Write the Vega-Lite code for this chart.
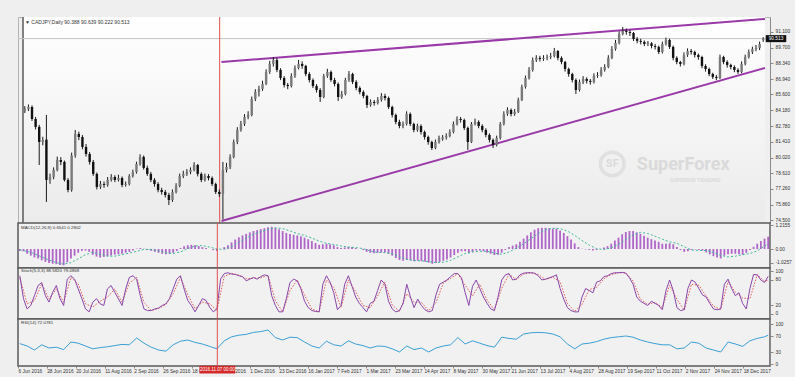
{
"$schema": "https://vega.github.io/schema/vega-lite/v6.json",
"background": "#efefef",
"padding": {"left": 16, "top": 15, "right": 2, "bottom": 2},
"spacing": 0,
"bounds": "flush",
"config": {
  "font": "Liberation Sans",
  "view": {"stroke": "#5a5a5a", "strokeWidth": 1.5},
  "axis": {"grid": false, "labelFontSize": 4.8, "labelColor": "#333333", "tickColor": "#888888", "tickSize": 3, "domainColor": "#8a8a8a", "labelPadding": 2, "labelOverlap": false}
},
"resolve": {"scale": {"x": "independent", "y": "independent"}},
"datasets": {
"c": [
{"t":0,"o":84.1,"h":84.55,"l":83.95,"c":84.3,"m":-0.1,"k":90,"g":-0.05,"r":51},
{"t":1,"o":84.3,"h":84.7,"l":84.12,"c":84.48,"m":-0.12,"k":36},
{"t":2,"o":84.48,"h":84.62,"l":83.25,"c":83.42,"m":-0.25,"k":12,"g":-0.12,"r":45},
{"t":3,"o":83.42,"h":83.6,"l":82.5,"c":82.72,"m":-0.35,"k":20},
{"t":4,"o":82.72,"h":82.9,"l":79.36,"c":81.39,"m":-0.45,"k":43,"g":-0.25,"r":35},
{"t":5,"o":81.39,"h":81.85,"l":81.1,"c":81.57,"m":-0.5,"k":67},
{"t":6,"o":81.6,"h":83.77,"l":76.1,"c":78.04,"m":-0.6,"k":74,"g":-0.42,"r":48},
{"t":7,"o":78.04,"h":78.6,"l":77.7,"c":78.3,"m":-0.68,"k":43},
{"t":8,"o":78.3,"h":79.15,"l":78.1,"c":78.92,"m":-0.74,"k":28,"g":-0.58,"r":40},
{"t":9,"o":78.92,"h":80.1,"l":78.8,"c":79.8,"m":-0.78,"k":51},
{"t":10,"o":79.8,"h":80.05,"l":79.35,"c":79.63,"m":-0.8,"k":67,"g":-0.72,"r":42},
{"t":11,"o":79.63,"h":79.75,"l":77.9,"c":78.04,"m":-0.84,"k":36},
{"t":12,"o":78.04,"h":78.2,"l":76.95,"c":77.15,"m":-0.86,"k":20,"g":-0.8,"r":36},
{"t":13,"o":77.15,"h":80.45,"l":77.0,"c":80.2,"m":-0.7,"k":82},
{"t":14,"o":80.2,"h":82.45,"l":80.0,"c":82.1,"m":-0.5,"k":90,"g":-0.72,"r":55},
{"t":15,"o":82.1,"h":82.3,"l":81.55,"c":81.83,"m":-0.35,"k":82},
{"t":16,"o":81.83,"h":82.0,"l":80.75,"c":80.95,"m":-0.2,"k":59,"g":-0.52,"r":52},
{"t":17,"o":80.95,"h":81.2,"l":80.1,"c":80.33,"m":-0.1,"k":36},
{"t":18,"o":80.33,"h":80.5,"l":79.4,"c":79.63,"m":-0.08,"k":12,"g":-0.3,"r":45},
{"t":19,"o":79.63,"h":79.8,"l":78.4,"c":78.57,"m":-0.15,"k":5},
{"t":20,"o":78.57,"h":78.7,"l":77.2,"c":77.42,"m":-0.3,"k":28,"g":-0.18,"r":38},
{"t":21,"o":77.42,"h":77.95,"l":77.25,"c":77.68,"m":-0.4,"k":36},
{"t":22,"o":77.68,"h":77.9,"l":77.35,"c":77.6,"m":-0.45,"k":24,"g":-0.28,"r":41},
{"t":23,"o":77.6,"h":78.3,"l":77.45,"c":78.04,"m":-0.42,"k":20},
{"t":24,"o":78.04,"h":78.55,"l":77.9,"c":78.3,"m":-0.38,"k":59,"g":-0.38,"r":43},
{"t":25,"o":78.3,"h":78.45,"l":77.85,"c":78.04,"m":-0.35,"k":67},
{"t":26,"o":78.04,"h":78.5,"l":77.9,"c":78.21,"m":-0.3,"k":51,"g":-0.38,"r":46},
{"t":27,"o":78.21,"h":78.35,"l":77.4,"c":77.6,"m":-0.28,"k":36},
{"t":28,"o":77.6,"h":77.9,"l":77.45,"c":77.68,"m":-0.25,"k":20,"g":-0.3,"r":49},
{"t":29,"o":77.68,"h":78.55,"l":77.55,"c":78.39,"m":-0.2,"k":59},
{"t":30,"o":78.39,"h":78.95,"l":78.25,"c":78.74,"m":-0.15,"k":86,"g":-0.22,"r":48},
{"t":31,"o":78.74,"h":79.65,"l":78.6,"c":79.45,"m":-0.08,"k":90},
{"t":32,"o":79.45,"h":80.3,"l":79.3,"c":80.07,"m":0.02,"k":82,"g":-0.12,"r":65},
{"t":33,"o":80.07,"h":80.2,"l":78.95,"c":79.1,"m":0.05,"k":43},
{"t":34,"o":79.1,"h":79.3,"l":78.4,"c":78.57,"m":0.02,"k":12,"g":-0.02,"r":52},
{"t":35,"o":78.57,"h":78.75,"l":77.85,"c":78.04,"m":-0.05,"k":8},
{"t":36,"o":78.04,"h":78.2,"l":77.45,"c":77.68,"m":-0.1,"k":8,"g":-0.02,"r":42},
{"t":37,"o":77.68,"h":77.85,"l":76.95,"c":77.15,"m":-0.15,"k":12},
{"t":38,"o":77.15,"h":77.35,"l":76.75,"c":76.98,"m":-0.2,"k":14,"g":-0.1,"r":35},
{"t":39,"o":76.98,"h":77.15,"l":76.5,"c":76.71,"m":-0.25,"k":20},
{"t":40,"o":76.71,"h":76.9,"l":75.83,"c":76.27,"m":-0.28,"k":24,"g":-0.2,"r":32},
{"t":41,"o":76.27,"h":77.2,"l":76.1,"c":76.98,"m":-0.25,"k":36},
{"t":42,"o":76.98,"h":77.75,"l":76.85,"c":77.51,"m":-0.2,"k":59,"g":-0.24,"r":48},
{"t":43,"o":77.51,"h":78.6,"l":77.4,"c":78.39,"m":-0.1,"k":82},
{"t":44,"o":78.39,"h":78.85,"l":78.2,"c":78.57,"m":0.05,"k":90,"g":-0.15,"r":57},
{"t":45,"o":78.57,"h":79.0,"l":78.4,"c":78.74,"m":0.15,"k":59},
{"t":46,"o":78.74,"h":79.15,"l":78.55,"c":78.92,"m":0.2,"k":32,"g":0.02,"r":60},
{"t":47,"o":78.92,"h":79.6,"l":78.8,"c":79.36,"m":0.22,"k":20},
{"t":48,"o":79.36,"h":79.45,"l":78.35,"c":78.57,"m":0.2,"k":5,"g":0.16,"r":54},
{"t":49,"o":78.57,"h":78.7,"l":77.85,"c":78.04,"m":0.15,"k":20},
{"t":50,"o":78.04,"h":78.6,"l":77.9,"c":78.39,"m":0.1,"k":36,"g":0.18,"r":50},
{"t":51,"o":78.39,"h":78.55,"l":78.0,"c":78.21,"m":0.05,"k":32},
{"t":52,"o":78.21,"h":78.35,"l":77.5,"c":77.68,"m":0.0,"k":16,"g":0.1,"r":44},
{"t":53,"o":77.68,"h":77.8,"l":76.8,"c":76.98,"m":-0.06,"k":5},
{"t":54,"o":76.98,"h":77.2,"l":76.55,"c":76.8,"m":-0.1,"k":12,"g":0.0,"r":38},
{"t":55,"o":76.8,"h":79.63,"l":74.55,"c":78.92,"m":0.0,"k":82},
{"t":56,"o":78.92,"h":79.55,"l":78.7,"c":79.18,"m":0.1,"k":95,"g":-0.02,"r":58},
{"t":57,"o":79.18,"h":80.3,"l":79.0,"c":80.07,"m":0.2,"k":97},
{"t":58,"o":80.07,"h":81.6,"l":79.95,"c":81.39,"m":0.35,"k":94,"g":0.12,"r":68},
{"t":59,"o":81.39,"h":82.7,"l":81.2,"c":82.45,"m":0.5,"k":93},
{"t":60,"o":82.45,"h":83.25,"l":82.3,"c":82.98,"m":0.62,"k":90,"g":0.35,"r":72},
{"t":61,"o":82.98,"h":83.85,"l":82.8,"c":83.6,"m":0.72,"k":88},
{"t":62,"o":83.6,"h":84.1,"l":83.4,"c":83.77,"m":0.8,"k":78,"g":0.58,"r":74},
{"t":63,"o":83.77,"h":85.4,"l":83.65,"c":85.19,"m":0.88,"k":82},
{"t":64,"o":85.19,"h":86.05,"l":85.0,"c":85.8,"m":0.95,"k":86,"g":0.78,"r":79},
{"t":65,"o":85.8,"h":86.35,"l":85.4,"c":86.07,"m":1.0,"k":82},
{"t":66,"o":86.07,"h":86.8,"l":85.9,"c":86.51,"m":1.05,"k":88,"g":0.92,"r":81},
{"t":67,"o":86.51,"h":87.8,"l":86.4,"c":87.57,"m":1.1,"k":92},
{"t":68,"o":87.57,"h":88.55,"l":87.4,"c":88.28,"m":1.15,"k":90,"g":1.04,"r":85},
{"t":69,"o":88.28,"h":88.89,"l":88.05,"c":88.63,"m":1.17,"k":43},
{"t":70,"o":88.63,"h":88.8,"l":87.55,"c":87.75,"m":1.12,"k":20,"g":1.12,"r":66},
{"t":71,"o":87.75,"h":87.9,"l":86.85,"c":87.04,"m":1.05,"k":5},
{"t":72,"o":87.04,"h":87.2,"l":86.2,"c":86.42,"m":0.95,"k":5,"g":1.08,"r":60},
{"t":73,"o":86.42,"h":86.6,"l":86.05,"c":86.33,"m":0.85,"k":36},
{"t":74,"o":86.33,"h":87.45,"l":86.2,"c":87.22,"m":0.8,"k":74,"g":0.96,"r":67},
{"t":75,"o":87.22,"h":88.15,"l":87.05,"c":87.92,"m":0.75,"k":82},
{"t":76,"o":87.92,"h":88.63,"l":87.8,"c":88.28,"m":0.72,"k":78,"g":0.82,"r":66},
{"t":77,"o":88.28,"h":88.5,"l":87.85,"c":88.1,"m":0.68,"k":59},
{"t":78,"o":88.1,"h":88.2,"l":87.2,"c":87.39,"m":0.6,"k":30,"g":0.72,"r":55},
{"t":79,"o":87.39,"h":87.55,"l":86.65,"c":86.86,"m":0.52,"k":15},
{"t":80,"o":86.86,"h":87.0,"l":86.15,"c":86.33,"m":0.42,"k":8,"g":0.58,"r":45},
{"t":81,"o":86.33,"h":86.5,"l":85.75,"c":85.98,"m":0.32,"k":6},
{"t":82,"o":85.98,"h":86.15,"l":84.92,"c":85.36,"m":0.22,"k":5,"g":0.42,"r":40},
{"t":83,"o":85.36,"h":87.4,"l":85.25,"c":87.22,"m":0.25,"k":70},
{"t":84,"o":87.22,"h":87.85,"l":87.05,"c":87.57,"m":0.28,"k":90,"g":0.3,"r":57},
{"t":85,"o":87.57,"h":87.7,"l":86.7,"c":86.86,"m":0.25,"k":75},
{"t":86,"o":86.86,"h":87.05,"l":86.3,"c":86.51,"m":0.2,"k":50,"g":0.24,"r":48},
{"t":87,"o":86.51,"h":86.65,"l":85.01,"c":85.36,"m":0.1,"k":10},
{"t":88,"o":85.36,"h":85.9,"l":85.2,"c":85.63,"m":0.05,"k":20,"g":0.16,"r":45},
{"t":89,"o":85.63,"h":87.05,"l":85.5,"c":86.86,"m":0.08,"k":70},
{"t":90,"o":86.86,"h":87.65,"l":86.7,"c":87.39,"m":0.12,"k":90,"g":0.1,"r":58},
{"t":91,"o":87.39,"h":87.5,"l":86.5,"c":86.69,"m":0.1,"k":65},
{"t":92,"o":86.69,"h":86.85,"l":85.95,"c":86.16,"m":0.05,"k":40,"g":0.08,"r":50},
{"t":93,"o":86.16,"h":86.3,"l":85.6,"c":85.8,"m":0.0,"k":25},
{"t":94,"o":85.8,"h":85.95,"l":85.25,"c":85.45,"m":-0.05,"k":15,"g":0.02,"r":46},
{"t":95,"o":85.45,"h":85.55,"l":84.39,"c":84.66,"m":-0.15,"k":5},
{"t":96,"o":84.66,"h":85.15,"l":84.5,"c":84.92,"m":-0.2,"k":25,"g":-0.1,"r":40},
{"t":97,"o":84.92,"h":85.1,"l":84.6,"c":84.83,"m":-0.22,"k":30},
{"t":98,"o":84.83,"h":85.35,"l":84.7,"c":85.1,"m":-0.2,"k":55,"g":-0.18,"r":45},
{"t":99,"o":85.1,"h":85.7,"l":84.95,"c":85.45,"m":-0.18,"k":80},
{"t":100,"o":85.45,"h":85.65,"l":85.05,"c":85.27,"m":-0.18,"k":70,"g":-0.19,"r":44},
{"t":101,"o":85.27,"h":85.4,"l":84.3,"c":84.48,"m":-0.25,"k":30},
{"t":102,"o":84.48,"h":84.6,"l":83.55,"c":83.77,"m":-0.35,"k":12,"g":-0.25,"r":38},
{"t":103,"o":83.77,"h":83.9,"l":82.95,"c":83.16,"m":-0.48,"k":5},
{"t":104,"o":83.16,"h":83.35,"l":82.6,"c":82.8,"m":-0.58,"k":8,"g":-0.4,"r":30},
{"t":105,"o":82.8,"h":83.2,"l":82.6,"c":82.98,"m":-0.62,"k":25},
{"t":106,"o":82.98,"h":84.1,"l":82.85,"c":83.86,"m":-0.58,"k":70,"g":-0.55,"r":45},
{"t":107,"o":83.86,"h":84.0,"l":82.8,"c":82.98,"m":-0.6,"k":40},
{"t":108,"o":82.98,"h":83.1,"l":82.25,"c":82.45,"m":-0.65,"k":15,"g":-0.61,"r":36},
{"t":109,"o":82.45,"h":83.0,"l":82.3,"c":82.8,"m":-0.62,"k":35},
{"t":110,"o":82.8,"h":82.95,"l":82.05,"c":82.27,"m":-0.64,"k":20,"g":-0.63,"r":40},
{"t":111,"o":82.27,"h":82.4,"l":81.6,"c":81.83,"m":-0.68,"k":10},
{"t":112,"o":81.83,"h":81.95,"l":81.15,"c":81.39,"m":-0.72,"k":5,"g":-0.67,"r":30},
{"t":113,"o":81.39,"h":81.5,"l":80.69,"c":80.86,"m":-0.78,"k":8},
{"t":114,"o":80.86,"h":81.6,"l":80.75,"c":81.39,"m":-0.74,"k":45,"g":-0.72,"r":40},
{"t":115,"o":81.39,"h":81.95,"l":81.25,"c":81.74,"m":-0.68,"k":70},
{"t":116,"o":81.65,"h":82.0,"l":81.5,"c":81.8,"m":-0.62,"k":75,"g":-0.7,"r":45},
{"t":117,"o":81.8,"h":82.15,"l":81.6,"c":81.92,"m":-0.55,"k":80},
{"t":118,"o":81.92,"h":82.5,"l":81.8,"c":82.27,"m":-0.45,"k":88,"g":-0.6,"r":48},
{"t":119,"o":82.27,"h":83.2,"l":82.15,"c":82.98,"m":-0.32,"k":95},
{"t":120,"o":82.98,"h":83.65,"l":82.85,"c":83.42,"m":-0.2,"k":95,"g":-0.42,"r":66},
{"t":121,"o":83.42,"h":83.6,"l":83.1,"c":83.33,"m":-0.12,"k":85},
{"t":122,"o":83.33,"h":83.45,"l":82.45,"c":82.63,"m":-0.12,"k":50,"g":-0.24,"r":50},
{"t":123,"o":82.63,"h":82.75,"l":80.69,"c":81.39,"m":-0.22,"k":20},
{"t":124,"o":81.39,"h":83.15,"l":81.3,"c":82.98,"m":-0.15,"k":65,"g":-0.16,"r":58},
{"t":125,"o":82.98,"h":83.45,"l":82.85,"c":83.16,"m":-0.08,"k":80},
{"t":126,"o":83.16,"h":83.3,"l":82.6,"c":82.8,"m":-0.08,"k":60,"g":-0.12,"r":52},
{"t":127,"o":82.8,"h":82.95,"l":82.25,"c":82.45,"m":-0.12,"k":40},
{"t":128,"o":82.45,"h":82.6,"l":81.8,"c":82.01,"m":-0.18,"k":25,"g":-0.12,"r":46},
{"t":129,"o":82.01,"h":82.15,"l":81.35,"c":81.57,"m":-0.25,"k":12},
{"t":130,"o":81.57,"h":81.7,"l":80.86,"c":81.13,"m":-0.32,"k":8,"g":-0.22,"r":42},
{"t":131,"o":81.13,"h":81.95,"l":81.0,"c":81.74,"m":-0.3,"k":40},
{"t":132,"o":81.74,"h":83.15,"l":81.6,"c":82.98,"m":-0.2,"k":80,"g":-0.28,"r":67},
{"t":133,"o":82.98,"h":84.1,"l":82.85,"c":83.86,"m":-0.05,"k":92},
{"t":134,"o":83.86,"h":84.45,"l":83.7,"c":84.22,"m":0.1,"k":95,"g":-0.16,"r":64},
{"t":135,"o":84.22,"h":84.35,"l":83.65,"c":83.86,"m":0.18,"k":80},
{"t":136,"o":83.86,"h":84.3,"l":83.7,"c":84.04,"m":0.25,"k":82,"g":0.04,"r":62},
{"t":137,"o":84.04,"h":85.3,"l":83.95,"c":85.1,"m":0.38,"k":92},
{"t":138,"o":85.1,"h":86.45,"l":85.0,"c":86.25,"m":0.55,"k":96,"g":0.28,"r":75},
{"t":139,"o":86.25,"h":87.25,"l":86.1,"c":87.04,"m":0.72,"k":97},
{"t":140,"o":87.04,"h":88.0,"l":86.9,"c":87.75,"m":0.88,"k":97,"g":0.55,"r":78},
{"t":141,"o":87.75,"h":88.85,"l":87.6,"c":88.63,"m":1.02,"k":96},
{"t":142,"o":88.63,"h":89.05,"l":88.45,"c":88.81,"m":1.1,"k":90,"g":0.82,"r":79},
{"t":143,"o":88.81,"h":89.0,"l":88.5,"c":88.72,"m":1.12,"k":80},
{"t":144,"o":88.72,"h":89.05,"l":88.55,"c":88.81,"m":1.12,"k":82,"g":1.02,"r":78},
{"t":145,"o":88.81,"h":89.1,"l":88.6,"c":88.89,"m":1.1,"k":85},
{"t":146,"o":88.89,"h":89.25,"l":88.7,"c":88.98,"m":1.08,"k":88,"g":1.1,"r":75},
{"t":147,"o":88.98,"h":89.69,"l":88.85,"c":89.42,"m":1.08,"k":92},
{"t":148,"o":89.42,"h":89.5,"l":88.6,"c":88.81,"m":0.98,"k":60,"g":1.08,"r":68},
{"t":149,"o":88.81,"h":88.95,"l":88.25,"c":88.45,"m":0.85,"k":35},
{"t":150,"o":88.45,"h":88.55,"l":87.6,"c":87.83,"m":0.68,"k":15,"g":0.95,"r":50},
{"t":151,"o":87.83,"h":87.95,"l":87.15,"c":87.39,"m":0.5,"k":8},
{"t":152,"o":87.39,"h":87.5,"l":86.65,"c":86.86,"m":0.3,"k":5,"g":0.72,"r":38},
{"t":153,"o":86.86,"h":87.0,"l":85.63,"c":85.98,"m":0.1,"k":5},
{"t":154,"o":85.98,"h":86.9,"l":85.85,"c":86.69,"m":0.02,"k":40,"g":0.45,"r":50},
{"t":155,"o":86.69,"h":87.2,"l":86.5,"c":86.95,"m":-0.02,"k":60},
{"t":156,"o":86.95,"h":87.1,"l":86.55,"c":86.78,"m":-0.05,"k":55,"g":0.2,"r":52},
{"t":157,"o":86.78,"h":86.95,"l":86.45,"c":86.69,"m":-0.08,"k":50},
{"t":158,"o":86.69,"h":87.45,"l":86.55,"c":87.22,"m":-0.05,"k":75,"g":0.02,"r":56},
{"t":159,"o":87.22,"h":87.55,"l":87.05,"c":87.3,"m":0.0,"k":78},
{"t":160,"o":87.3,"h":88.0,"l":87.15,"c":87.75,"m":0.08,"k":88,"g":-0.03,"r":62},
{"t":161,"o":87.75,"h":88.25,"l":87.6,"c":88.01,"m":0.15,"k":90},
{"t":162,"o":88.01,"h":89.05,"l":87.9,"c":88.81,"m":0.28,"k":95,"g":0.06,"r":66},
{"t":163,"o":88.81,"h":89.85,"l":88.7,"c":89.6,"m":0.45,"k":97},
{"t":164,"o":89.6,"h":90.4,"l":89.45,"c":90.13,"m":0.6,"k":97,"g":0.25,"r":68},
{"t":165,"o":90.13,"h":91.15,"l":90.0,"c":90.92,"m":0.78,"k":98},
{"t":166,"o":90.92,"h":91.54,"l":90.8,"c":91.19,"m":0.9,"k":96,"g":0.5,"r":70},
{"t":167,"o":91.19,"h":91.4,"l":90.85,"c":91.1,"m":0.95,"k":85},
{"t":168,"o":91.1,"h":91.3,"l":90.75,"c":91.01,"m":0.95,"k":70,"g":0.75,"r":67},
{"t":169,"o":91.01,"h":91.1,"l":90.3,"c":90.48,"m":0.88,"k":40},
{"t":170,"o":90.48,"h":90.65,"l":90.1,"c":90.31,"m":0.8,"k":30,"g":0.88,"r":60},
{"t":171,"o":90.31,"h":90.5,"l":90.0,"c":90.22,"m":0.7,"k":25},
{"t":172,"o":90.22,"h":90.35,"l":89.85,"c":90.04,"m":0.6,"k":20,"g":0.82,"r":55},
{"t":173,"o":90.04,"h":90.3,"l":89.85,"c":90.1,"m":0.52,"k":30},
{"t":174,"o":90.1,"h":90.2,"l":89.65,"c":89.86,"m":0.45,"k":25,"g":0.68,"r":51},
{"t":175,"o":89.86,"h":90.05,"l":89.55,"c":89.78,"m":0.38,"k":20},
{"t":176,"o":89.78,"h":89.9,"l":89.15,"c":89.33,"m":0.28,"k":10,"g":0.52,"r":48},
{"t":177,"o":89.33,"h":90.25,"l":89.2,"c":90.04,"m":0.28,"k":55},
{"t":178,"o":90.04,"h":90.6,"l":89.9,"c":90.39,"m":0.3,"k":80,"g":0.38,"r":48},
{"t":179,"o":90.39,"h":90.5,"l":89.6,"c":89.78,"m":0.25,"k":55},
{"t":180,"o":89.78,"h":89.9,"l":88.6,"c":88.81,"m":0.1,"k":15,"g":0.3,"r":38},
{"t":181,"o":88.81,"h":88.95,"l":88.25,"c":88.45,"m":-0.05,"k":8},
{"t":182,"o":88.45,"h":88.55,"l":88.05,"c":88.28,"m":-0.15,"k":10,"g":0.12,"r":40},
{"t":183,"o":88.28,"h":89.3,"l":88.15,"c":89.07,"m":-0.12,"k":60},
{"t":184,"o":89.07,"h":89.65,"l":88.9,"c":89.42,"m":-0.05,"k":80,"g":-0.05,"r":55},
{"t":185,"o":89.42,"h":89.6,"l":89.1,"c":89.33,"m":-0.02,"k":75},
{"t":186,"o":89.33,"h":89.45,"l":88.85,"c":89.07,"m":-0.05,"k":60,"g":-0.08,"r":52},
{"t":187,"o":89.07,"h":89.2,"l":88.65,"c":88.89,"m":-0.08,"k":45},
{"t":188,"o":88.89,"h":89.0,"l":87.9,"c":88.1,"m":-0.18,"k":40,"g":-0.08,"r":40},
{"t":189,"o":88.1,"h":88.25,"l":87.6,"c":87.83,"m":-0.28,"k":25},
{"t":190,"o":87.83,"h":87.95,"l":87.2,"c":87.39,"m":-0.38,"k":12,"g":-0.18,"r":35},
{"t":191,"o":87.39,"h":87.5,"l":86.95,"c":87.13,"m":-0.45,"k":10},
{"t":192,"o":87.13,"h":87.3,"l":86.85,"c":87.04,"m":-0.5,"k":12,"g":-0.34,"r":30},
{"t":193,"o":87.04,"h":89.1,"l":86.95,"c":88.89,"m":-0.35,"k":70},
{"t":194,"o":88.89,"h":89.0,"l":88.25,"c":88.45,"m":-0.28,"k":82,"g":-0.42,"r":55},
{"t":195,"o":88.45,"h":88.6,"l":87.95,"c":88.19,"m":-0.25,"k":60},
{"t":196,"o":88.19,"h":88.3,"l":87.8,"c":88.01,"m":-0.25,"k":43,"g":-0.38,"r":50},
{"t":197,"o":88.01,"h":88.15,"l":87.55,"c":87.75,"m":-0.28,"k":50},
{"t":198,"o":87.75,"h":87.9,"l":87.39,"c":87.57,"m":-0.3,"k":25,"g":-0.3,"r":44},
{"t":199,"o":87.57,"h":88.5,"l":87.45,"c":88.28,"m":-0.2,"k":12},
{"t":200,"o":88.28,"h":89.1,"l":88.15,"c":88.89,"m":-0.05,"k":60,"g":-0.24,"r":58},
{"t":201,"o":88.89,"h":89.55,"l":88.75,"c":89.33,"m":0.12,"k":93},
{"t":202,"o":89.33,"h":89.8,"l":89.15,"c":89.6,"m":0.28,"k":92,"g":-0.1,"r":64},
{"t":203,"o":89.6,"h":89.95,"l":89.4,"c":89.69,"m":0.42,"k":80},
{"t":204,"o":89.69,"h":90.25,"l":89.5,"c":90.04,"m":0.55,"k":74,"g":0.15,"r":68},
{"t":205,"o":90.388,"h":90.639,"l":90.222,"c":90.513,"m":0.654,"k":88.58,"g":0.28,"r":72.08}
],
"sd": [
{"t":0,"d":85},{"t":2,"d":24},{"t":4,"d":31.5},{"t":6,"d":70.5},{"t":8,"d":35.5},{"t":10,"d":59},{"t":12,"d":28},{"t":14,"d":86},{"t":16,"d":70.5},{"t":18,"d":24},
{"t":20,"d":16.5},{"t":22,"d":30},{"t":24,"d":39.5},{"t":26,"d":59},{"t":28,"d":28},{"t":30,"d":72.5},{"t":32,"d":86},{"t":34,"d":27.5},{"t":36,"d":8},{"t":38,"d":13},
{"t":40,"d":22},{"t":42,"d":47.5},{"t":44,"d":86},{"t":46,"d":45.5},{"t":48,"d":12.5},{"t":50,"d":28},{"t":52,"d":24},{"t":54,"d":8.5},{"t":56,"d":88.5},{"t":58,"d":95.5},
{"t":60,"d":91.5},{"t":62,"d":83},{"t":64,"d":84},{"t":66,"d":85},{"t":68,"d":91},{"t":70,"d":31.5},{"t":72,"d":5},{"t":74,"d":55},{"t":76,"d":80},{"t":78,"d":44.5},
{"t":80,"d":11.5},{"t":82,"d":5.5},{"t":84,"d":80},{"t":86,"d":62.5},{"t":88,"d":15},{"t":90,"d":80},{"t":92,"d":52.5},{"t":94,"d":20},{"t":96,"d":15},{"t":98,"d":42.5},
{"t":100,"d":75},{"t":102,"d":21},{"t":104,"d":6.5},{"t":106,"d":47.5},{"t":108,"d":27.5},{"t":110,"d":27.5},{"t":112,"d":7.5},{"t":114,"d":26.5},{"t":116,"d":72.5},{"t":118,"d":84},
{"t":120,"d":95},{"t":122,"d":67.5},{"t":124,"d":42.5},{"t":126,"d":70},{"t":128,"d":32.5},{"t":130,"d":10},{"t":132,"d":60},{"t":134,"d":93.5},{"t":136,"d":81},{"t":138,"d":94},
{"t":140,"d":97},{"t":142,"d":93},{"t":144,"d":81},{"t":146,"d":86.5},{"t":148,"d":76},{"t":150,"d":25},{"t":152,"d":6.5},{"t":154,"d":22.5},{"t":156,"d":57.5},{"t":158,"d":62.5},
{"t":160,"d":83},{"t":162,"d":92.5},{"t":164,"d":97},{"t":166,"d":97},{"t":168,"d":77.5},{"t":170,"d":35},{"t":172,"d":22.5},{"t":174,"d":27.5},{"t":176,"d":15},{"t":178,"d":67.5},
{"t":180,"d":35},{"t":182,"d":9},{"t":184,"d":70},{"t":186,"d":67.5},{"t":188,"d":42.5},{"t":190,"d":18.5},{"t":192,"d":11},{"t":194,"d":76},{"t":196,"d":51.5},{"t":198,"d":37.5},
{"t":200,"d":36},{"t":202,"d":92.5},{"t":204,"d":77},{"t":205,"d":79.49}
],
"trend": [
{"t":54.6,"t2":205.5,"p":88.45,"p2":92.25},
{"t":54.6,"t2":205.5,"p":74.42,"p2":87.92}
]
},
"vconcat": [
{
 "width": 752, "height": 206,
 "view": {"stroke": "#b4b4b4", "strokeWidth": 1},
 "resolve": {"axis": {"x": "independent", "y": "independent"}},
 "layer": [
  {"data": {"values": [{}]},
   "mark": {"type": "rect", "color": {"gradient": "linear", "x1": 0, "y1": 0, "x2": 0, "y2": 1, "stops": [{"offset": 0, "color": "#ffffff"}, {"offset": 1, "color": "#ebebeb"}]}},
   "encoding": {
    "x": {"datum": -0.5, "type": "quantitative", "scale": {"domain": [-0.5, 205.5], "nice": false, "zero": false}, "axis": null},
    "x2": {"datum": 205.5},
    "y": {"datum": 92.42, "type": "quantitative", "scale": {"domain": [74.24, 92.42], "nice": false, "zero": false},
      "axis": {"orient": "right", "title": null, "labelOverlap": false, "values": [91.1, 89.7, 88.34, 86.94, 85.6, 84.18, 82.78, 81.41, 80.02, 78.61, 77.26, 75.86, 74.5], "format": ".3f"}},
    "y2": {"datum": 74.24}}},
  {"data": {"values": [{}]},
   "mark": {"type": "rule", "color": "#5a5a5a", "strokeWidth": 1.5},
   "encoding": {"x": {"datum": -0.5, "type": "quantitative", "scale": {"domain": [-0.5, 205.5], "nice": false, "zero": false}, "axis": null}}},
  {"data": {"values": [{}]},
   "mark": {"type": "rule", "color": "#c4c4c4", "strokeWidth": 1},
   "encoding": {"y": {"datum": 90.513, "type": "quantitative", "scale": {"domain": [74.24, 92.42], "nice": false, "zero": false}, "axis": null}}},
  {"data": {"values": [{"t": 163.1, "p": 79.45}]},
   "mark": {"type": "point", "shape": "circle", "filled": false, "size": 560, "stroke": "#dadada", "strokeWidth": 3.5},
   "encoding": {
    "x": {"field": "t", "type": "quantitative", "scale": {"domain": [-0.5, 205.5], "nice": false, "zero": false}, "axis": null},
    "y": {"field": "p", "type": "quantitative", "scale": {"domain": [74.24, 92.42], "nice": false, "zero": false}, "axis": null}}},
  {"data": {"values": [{"t": 163.1, "p": 79.45, "s": "SF", "f": 11}, {"t": 182.8, "p": 79.36, "s": "SuperForex", "f": 18}, {"t": 186.1, "p": 78.0, "s": "SUPERIOR TRADING", "f": 5.5}]},
   "mark": {"type": "text", "color": "#dadada", "fontWeight": "bold", "font": "Roboto", "align": "center", "baseline": "middle"},
   "encoding": {
    "x": {"field": "t", "type": "quantitative", "scale": {"domain": [-0.5, 205.5], "nice": false, "zero": false}, "axis": null},
    "y": {"field": "p", "type": "quantitative", "scale": {"domain": [74.24, 92.42], "nice": false, "zero": false}, "axis": null},
    "text": {"field": "s"},
    "size": {"field": "f", "type": "quantitative", "scale": null}}},
  {"data": {"name": "trend"},
   "mark": {"type": "rule", "color": "#9a3aa8", "strokeWidth": 2},
   "encoding": {
    "x": {"field": "t", "type": "quantitative", "scale": {"domain": [-0.5, 205.5], "nice": false, "zero": false}, "axis": null},
    "x2": {"field": "t2"},
    "y": {"field": "p", "type": "quantitative", "scale": {"domain": [74.24, 92.42], "nice": false, "zero": false}, "axis": null},
    "y2": {"field": "p2"}}},
  {"data": {"values": [{}]},
   "mark": {"type": "rule", "color": "#e05050", "strokeWidth": 1},
   "encoding": {"x": {"datum": 54.1, "type": "quantitative", "scale": {"domain": [-0.5, 205.5], "nice": false, "zero": false}, "axis": null}}},
  {"data": {"name": "c"},
   "mark": {"type": "rule", "color": "#1a1a1a", "strokeWidth": 1},
   "encoding": {
    "x": {"field": "t", "type": "quantitative", "scale": {"domain": [-0.5, 205.5], "nice": false, "zero": false}, "axis": null},
    "y": {"field": "l", "type": "quantitative", "scale": {"domain": [74.24, 92.42], "nice": false, "zero": false}, "axis": null},
    "y2": {"field": "h"}}},
  {"data": {"name": "c"},
   "mark": {"type": "bar", "size": 2.4},
   "encoding": {
    "x": {"field": "t", "type": "quantitative", "scale": {"domain": [-0.5, 205.5], "nice": false, "zero": false}, "axis": null},
    "y": {"field": "o", "type": "quantitative", "scale": {"domain": [74.24, 92.42], "nice": false, "zero": false}, "axis": null},
    "y2": {"field": "c"},
    "color": {"condition": {"test": "datum.c >= datum.o", "value": "#7a7a7a"}, "value": "#111111"}}},
  {"data": {"values": [{"t": -0.5, "p": 91.98, "s": "▼ CADJPY,Daily  90.388 90.639 90.222 90.513"}]},
   "mark": {"type": "text", "align": "left", "baseline": "middle", "dx": 2, "fontSize": 5, "color": "#333333"},
   "encoding": {
    "x": {"field": "t", "type": "quantitative", "scale": {"domain": [-0.5, 205.5], "nice": false, "zero": false}, "axis": null},
    "y": {"field": "p", "type": "quantitative", "scale": {"domain": [74.24, 92.42], "nice": false, "zero": false}, "axis": null},
    "text": {"field": "s"}}},
  {"data": {"values": [{"t": 205.7, "t2": 211.4, "p": 90.82, "p2": 90.2}]},
   "mark": {"type": "rect", "color": "#111111"},
   "encoding": {
    "x": {"field": "t", "type": "quantitative", "scale": {"domain": [-0.5, 205.5], "nice": false, "zero": false}, "axis": null},
    "x2": {"field": "t2"},
    "y": {"field": "p", "type": "quantitative", "scale": {"domain": [74.24, 92.42], "nice": false, "zero": false}, "axis": null},
    "y2": {"field": "p2"}}},
  {"data": {"values": [{"t": 208.55, "p": 90.513, "s": "90.513"}]},
   "mark": {"type": "text", "align": "center", "baseline": "middle", "fontSize": 4.8, "color": "#ffffff"},
   "encoding": {
    "x": {"field": "t", "type": "quantitative", "scale": {"domain": [-0.5, 205.5], "nice": false, "zero": false}, "axis": null},
    "y": {"field": "p", "type": "quantitative", "scale": {"domain": [74.24, 92.42], "nice": false, "zero": false}, "axis": null},
    "text": {"field": "s"}}}
 ]
},
{
 "width": 752, "height": 45,
 "view": {"fill": "#f1f1f1"},
 "resolve": {"axis": {"x": "independent", "y": "independent"}},
 "layer": [
  {"data": {"name": "c"},
   "mark": {"type": "rule", "color": "#a855c4", "strokeWidth": 1.8, "opacity": 0.9},
   "encoding": {
    "x": {"field": "t", "type": "quantitative", "scale": {"domain": [-0.5, 205.5], "nice": false, "zero": false}, "axis": null},
    "y": {"field": "m", "type": "quantitative", "scale": {"domain": [-1.005, 1.376], "nice": false, "zero": false},
      "axis": {"orient": "right", "title": null, "labelOverlap": false, "values": [1.27, 0, -0.74], "labelExpr": "datum.value > 1 ? '1.2155' : (datum.value < 0 ? '-1.0257' : '0.00')"}},
    "y2": {"datum": 0}}},
  {"data": {"name": "c"},
   "transform": [{"filter": "isValid(datum.g)"}],
   "mark": {"type": "line", "color": "#3db89a", "strokeWidth": 1, "strokeDash": [2, 2]},
   "encoding": {
    "x": {"field": "t", "type": "quantitative", "scale": {"domain": [-0.5, 205.5], "nice": false, "zero": false}, "axis": null},
    "y": {"field": "g", "type": "quantitative", "scale": {"domain": [-1.005, 1.376], "nice": false, "zero": false}, "axis": null}}},
  {"data": {"values": [{}]},
   "mark": {"type": "rule", "color": "#e05050", "strokeWidth": 1},
   "encoding": {"x": {"datum": 54.1, "type": "quantitative", "scale": {"domain": [-0.5, 205.5], "nice": false, "zero": false}, "axis": null}}},
  {"data": {"values": [{"t": -0.5, "v": 1.1, "s": "MACD(12,26,9) 0.6541 0.2802"}]},
   "mark": {"type": "text", "align": "left", "baseline": "middle", "dx": 3, "fontSize": 4.4, "color": "#333333"},
   "encoding": {
    "x": {"field": "t", "type": "quantitative", "scale": {"domain": [-0.5, 205.5], "nice": false, "zero": false}, "axis": null},
    "y": {"field": "v", "type": "quantitative", "scale": {"domain": [-1.005, 1.376], "nice": false, "zero": false}, "axis": null},
    "text": {"field": "s"}}}
 ]
},
{
 "width": 752, "height": 51,
 "view": {"fill": "#f1f1f1"},
 "resolve": {"axis": {"x": "independent", "y": "independent"}},
 "layer": [
  {"data": {"name": "sd"},
   "mark": {"type": "line", "color": "#e05a5a", "strokeWidth": 1, "strokeDash": [1.5, 1.5]},
   "encoding": {
    "x": {"field": "t", "type": "quantitative", "scale": {"domain": [-0.5, 205.5], "nice": false, "zero": false}, "axis": null},
    "y": {"field": "d", "type": "quantitative", "scale": {"domain": [-11.8, 108.2], "nice": false, "zero": false}, "axis": null}}},
  {"data": {"name": "c"},
   "mark": {"type": "line", "color": "#8a45a8", "strokeWidth": 1},
   "encoding": {
    "x": {"field": "t", "type": "quantitative", "scale": {"domain": [-0.5, 205.5], "nice": false, "zero": false}, "axis": null},
    "y": {"field": "k", "type": "quantitative", "scale": {"domain": [-11.8, 108.2], "nice": false, "zero": false},
      "axis": {"orient": "right", "title": null, "labelOverlap": false, "values": [100, 80, 20, 0]}}}},
  {"data": {"values": [{}]},
   "mark": {"type": "rule", "color": "#e05050", "strokeWidth": 1},
   "encoding": {"x": {"datum": 54.1, "type": "quantitative", "scale": {"domain": [-0.5, 205.5], "nice": false, "zero": false}, "axis": null}}},
  {"data": {"values": [{"t": -0.5, "v": 100, "s": "Stoch(5,3,3) 88.5820 79.4868"}]},
   "mark": {"type": "text", "align": "left", "baseline": "middle", "dx": 3, "fontSize": 4.4, "color": "#333333"},
   "encoding": {
    "x": {"field": "t", "type": "quantitative", "scale": {"domain": [-0.5, 205.5], "nice": false, "zero": false}, "axis": null},
    "y": {"field": "v", "type": "quantitative", "scale": {"domain": [-11.8, 108.2], "nice": false, "zero": false}, "axis": null},
    "text": {"field": "s"}}}
 ]
},
{
 "width": 752, "height": 47,
 "view": {"fill": "#f1f1f1"},
 "resolve": {"axis": {"x": "independent", "y": "independent"}},
 "layer": [
  {"data": {"name": "c"},
   "transform": [{"filter": "isValid(datum.r)"}],
   "mark": {"type": "line", "color": "#3a9fd6", "strokeWidth": 1},
   "encoding": {
    "x": {"field": "t", "type": "quantitative", "scale": {"domain": [-0.5, 205.5], "nice": false, "zero": false},
      "axis": {"orient": "bottom", "title": null, "domain": false, "labelAlign": "left", "labelOverlap": false, "labelFontSize": 4.8, "labelPadding": 0, "tickSize": 2,
        "values": [-0.5, 7.35, 15.3, 23.25, 31.2, 39.15, 47.1, 55.05, 63.0, 70.95, 78.9, 86.85, 94.8, 102.75, 110.7, 118.65, 126.6, 134.55, 142.5, 150.45, 158.4, 166.35, 174.3, 182.25, 190.2, 198.15],
        "labelExpr": "['6 Jun 2016','28 Jun 2016','20 Jul 2016','11 Aug 2016','2 Sep 2016','26 Sep 2016','18 Oct 2016','9 Nov 2016','1 Dec 2016','23 Dec 2016','16 Jan 2017','7 Feb 2017','1 Mar 2017','23 Mar 2017','14 Apr 2017','8 May 2017','30 May 2017','21 Jun 2017','13 Jul 2017','4 Aug 2017','28 Aug 2017','19 Sep 2017','11 Oct 2017','2 Nov 2017','24 Nov 2017','18 Dec 2017'][round((datum.value + 0.6) / 7.95)]"}},
    "y": {"field": "r", "type": "quantitative", "scale": {"domain": [-5, 112.5], "nice": false, "zero": false},
      "axis": {"orient": "right", "title": null, "labelOverlap": false, "values": [100, 70, 30, 0]}}}},
  {"data": {"values": [{}]},
   "mark": {"type": "rule", "color": "#e05050", "strokeWidth": 1},
   "encoding": {"x": {"datum": 54.1, "type": "quantitative", "scale": {"domain": [-0.5, 205.5], "nice": false, "zero": false}, "axis": null}}},
  {"data": {"values": [{"t": -0.5, "v": 102, "s": "RSI(14) 72.0781"}]},
   "mark": {"type": "text", "align": "left", "baseline": "middle", "dx": 3, "fontSize": 4.4, "color": "#333333"},
   "encoding": {
    "x": {"field": "t", "type": "quantitative", "scale": {"domain": [-0.5, 205.5], "nice": false, "zero": false}, "axis": null},
    "y": {"field": "v", "type": "quantitative", "scale": {"domain": [-5, 112.5], "nice": false, "zero": false}, "axis": null},
    "text": {"field": "s"}}},
  {"data": {"values": [{"t": 49.2, "t2": 59.0, "v": -4.5, "v2": -24}]},
   "mark": {"type": "rect", "color": "#d42a2a"},
   "encoding": {
    "x": {"field": "t", "type": "quantitative", "scale": {"domain": [-0.5, 205.5], "nice": false, "zero": false}, "axis": null},
    "x2": {"field": "t2"},
    "y": {"field": "v", "type": "quantitative", "scale": {"domain": [-5, 112.5], "nice": false, "zero": false}, "axis": null},
    "y2": {"field": "v2"}}},
  {"data": {"values": [{"t": 54.1, "v": -14.3, "s": "2016.11.07 00:00"}]},
   "mark": {"type": "text", "align": "center", "baseline": "middle", "fontSize": 4.5, "color": "#ffffff"},
   "encoding": {
    "x": {"field": "t", "type": "quantitative", "scale": {"domain": [-0.5, 205.5], "nice": false, "zero": false}, "axis": null},
    "y": {"field": "v", "type": "quantitative", "scale": {"domain": [-5, 112.5], "nice": false, "zero": false}, "axis": null},
    "text": {"field": "s"}}}
 ]
}
]
}
